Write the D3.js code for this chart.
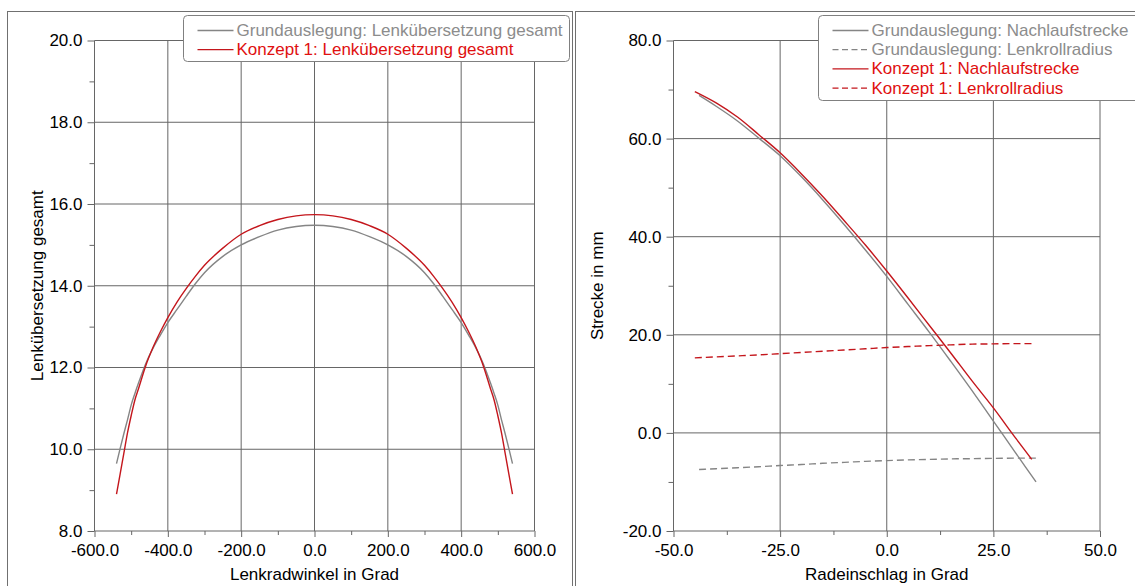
<!DOCTYPE html>
<html><head><meta charset="utf-8">
<script src="https://cdn.jsdelivr.net/npm/d3@7"></script>
<style>
body{margin:0;background:#fff}
svg{display:block;font-family:"Liberation Sans",Arial,sans-serif}
</style>
</head><body>
<svg id="chart" width="1135" height="586"></svg>
<script>
// ---------- DATA ----------
// Left panel: Lenkübersetzung gesamt vs Lenkradwinkel
const lenkradwinkel = [-540,-530,-520,-510,-500,-490,-480,-460,-440,-420,-400,-375,-350,-325,-300,-250,-200,-150,-100,-50,0,50,100,150,200,250,300,325,350,375,400,420,440,460,480,490,500,510,520,530,540];
const grundUebersetzung = [9.65,10.02,10.38,10.72,11.08,11.36,11.62,12.10,12.48,12.80,13.10,13.42,13.74,14.05,14.32,14.72,15.00,15.20,15.36,15.45,15.48,15.45,15.36,15.20,15.00,14.72,14.32,14.05,13.74,13.42,13.10,12.80,12.48,12.10,11.62,11.36,11.08,10.72,10.38,10.02,9.65];
const konzeptUebersetzung = [8.90,9.40,9.90,10.40,10.82,11.20,11.48,12.05,12.50,12.88,13.22,13.60,13.93,14.23,14.50,14.92,15.26,15.47,15.62,15.71,15.74,15.71,15.62,15.47,15.26,14.92,14.50,14.23,13.93,13.60,13.22,12.88,12.50,12.05,11.48,11.20,10.82,10.40,9.90,9.40,8.90];

// Right panel: Strecke vs Radeinschlag
const radeinschlagGrund = [-44,-40,-35,-30,-25,-20,-15,-10,-5,0,5,10,15,20,25,30,35];
const grundNachlauf = [68.8,66.6,63.6,60.1,56.5,52.2,47.5,42.5,37.3,31.9,26.2,20.5,14.6,8.6,2.4,-3.8,-10.0];
const grundLenkroll = [-7.45,-7.3,-7.1,-6.9,-6.65,-6.45,-6.2,-6.0,-5.8,-5.65,-5.5,-5.4,-5.3,-5.25,-5.2,-5.15,-5.15];
const radeinschlagKonzept = [-45,-40,-35,-30,-25,-20,-15,-10,-5,0,5,10,15,20,25,30,34];
const konzeptNachlauf = [69.6,67.3,64.4,60.8,57.1,52.8,48.2,43.3,38.3,33.0,27.5,21.9,16.3,10.6,5.1,-0.8,-5.4];
const konzeptLenkroll = [15.3,15.5,15.7,15.9,16.15,16.4,16.65,16.9,17.15,17.4,17.6,17.8,17.95,18.1,18.15,18.2,18.2];

// Ticks
const leftXTicks = [-600,-400,-200,0,200,400,600];
const leftXMinor = [-500,-300,-100,100,300,500];
const leftYTicks = [8,10,12,14,16,18,20];
const leftYMinor = [9,11,13,15,17,19];
const rightXTicks = [-50,-25,0,25,50];
const rightXMinor = [-37.5,-12.5,12.5,37.5];
const rightYTicks = [-20,0,20,40,60,80];
const rightYMinor = [-10,10,30,50,70];

// Labels
const leftXTitle = "Lenkradwinkel in Grad";
const leftYTitle = "Lenkübersetzung gesamt";
const rightXTitle = "Radeinschlag in Grad";
const rightYTitle = "Strecke in mm";
const leftLegend = ["Grundauslegung: Lenkübersetzung gesamt","Konzept 1: Lenkübersetzung gesamt"];
const rightLegend = ["Grundauslegung: Nachlaufstrecke","Grundauslegung: Lenkrollradius","Konzept 1: Nachlaufstrecke","Konzept 1: Lenkrollradius"];

// ---------- STYLE ----------
const GREY = "#858585", RED = "#c4161c", GREY_TXT = "#8c8c8c", RED_TXT = "#e01010";
const GRID = "#666", FRAME = "#707070", FS = 17;
const fmt = d => d.toFixed(1);

const svg = d3.select("#chart");

// frames
svg.append("rect").attr("x",7.5).attr("y",11.5).attr("width",565).attr("height",600)
  .attr("fill","none").attr("stroke",FRAME);
svg.append("rect").attr("x",575.5).attr("y",11.5).attr("width",600).attr("height",600)
  .attr("fill","none").attr("stroke",FRAME);

function panel(cfg){
  const g = svg.append("g");
  const x = d3.scaleLinear().domain(cfg.xDomain).range(cfg.xRange);
  const y = d3.scaleLinear().domain(cfg.yDomain).range([531,40.5]);
  // grid
  g.append("g").selectAll("line").data(cfg.xTicks).join("line")
    .attr("x1",d=>x(d)).attr("x2",d=>x(d)).attr("y1",y.range()[0]).attr("y2",y.range()[1])
    .attr("stroke",GRID).attr("stroke-width",1);
  g.append("g").selectAll("line").data(cfg.yTicks).join("line")
    .attr("y1",d=>y(d)).attr("y2",d=>y(d)).attr("x1",x.range()[0]).attr("x2",x.range()[1])
    .attr("stroke",GRID).attr("stroke-width",1);
  // axes
  const ax = g.append("g").attr("transform",`translate(0,${y.range()[0]})`)
    .call(d3.axisBottom(x).tickValues(cfg.xTicks).tickFormat(fmt).tickSize(6).tickPadding(7).tickSizeOuter(0));
  const axm = g.append("g").attr("transform",`translate(0,${y.range()[0]})`)
    .call(d3.axisBottom(x).tickValues(cfg.xMinor).tickFormat("").tickSize(4).tickSizeOuter(0));
  const ay = g.append("g").attr("transform",`translate(${x.range()[0]},0)`)
    .call(d3.axisLeft(y).tickValues(cfg.yTicks).tickFormat(fmt).tickSize(7).tickPadding(5).tickSizeOuter(0));
  const aym = g.append("g").attr("transform",`translate(${x.range()[0]},0)`)
    .call(d3.axisLeft(y).tickValues(cfg.yMinor).tickFormat("").tickSize(5).tickSizeOuter(0));
  [ax,axm,ay,aym].forEach(a=>{
    a.select(".domain").remove();
    a.selectAll("line").attr("stroke",GRID);
    a.selectAll("text").attr("font-size",FS).attr("fill","#000")
      .attr("font-family",'"Liberation Sans",Arial,sans-serif');
  });
  // titles
  g.append("text").attr("x",(x.range()[0]+x.range()[1])/2).attr("y",574)
    .attr("text-anchor","middle").attr("dominant-baseline","central")
    .attr("font-size",FS).text(cfg.xTitle);
  g.append("text").attr("transform",`translate(${cfg.yTitleX},${(y.range()[0]+y.range()[1])/2}) rotate(-90)`)
    .attr("text-anchor","middle").attr("dominant-baseline","central")
    .attr("font-size",FS).text(cfg.yTitle);
  // series
  const line = d3.line().x(d=>x(d[0])).y(d=>y(d[1])).curve(d3.curveMonotoneX);
  cfg.series.forEach(s=>{
    g.append("path").datum(d3.zip(s.x,s.y)).attr("d",line)
      .attr("fill","none").attr("stroke",s.color).attr("stroke-width",1.4)
      .attr("stroke-dasharray",s.dash||null);
  });
  // legend
  const L = cfg.legend;
  g.append("rect").attr("x",L.x).attr("y",L.y).attr("width",L.w).attr("height",L.h).attr("rx",4)
    .attr("fill","#fff").attr("stroke","#808080");
  cfg.series.forEach((s,i)=>{
    const yy = L.y + 15 + i*19.2;
    g.append("line").attr("x1",L.x+14).attr("x2",L.x+50).attr("y1",yy).attr("y2",yy)
      .attr("stroke",s.color).attr("stroke-width",1.3).attr("stroke-dasharray",s.dash?"6,3.5":null);
    g.append("text").attr("x",L.x+53).attr("y",yy).attr("dominant-baseline","central")
      .attr("font-size",FS).attr("fill",s.txt).text(s.label);
  });
}

panel({
  xDomain:[-600,600], xRange:[94.5,534.5], yDomain:[8,20],
  xTicks:leftXTicks, xMinor:leftXMinor, yTicks:leftYTicks, yMinor:leftYMinor,
  xTitle:leftXTitle, yTitle:leftYTitle, yTitleX:37,
  series:[
    {x:lenkradwinkel,y:grundUebersetzung,color:GREY,txt:GREY_TXT,label:leftLegend[0]},
    {x:lenkradwinkel,y:konzeptUebersetzung,color:RED,txt:RED_TXT,label:leftLegend[1]}
  ],
  legend:{x:183.5,y:15.5,w:386,h:46}
});

panel({
  xDomain:[-50,50], xRange:[673.5,1100], yDomain:[-20,80],
  xTicks:rightXTicks, xMinor:rightXMinor, yTicks:rightYTicks, yMinor:rightYMinor,
  xTitle:rightXTitle, yTitle:rightYTitle, yTitleX:597,
  series:[
    {x:radeinschlagGrund,y:grundNachlauf,color:GREY,txt:GREY_TXT,label:rightLegend[0]},
    {x:radeinschlagGrund,y:grundLenkroll,color:GREY,txt:GREY_TXT,label:rightLegend[1],dash:"7,4"},
    {x:radeinschlagKonzept,y:konzeptNachlauf,color:RED,txt:RED_TXT,label:rightLegend[2]},
    {x:radeinschlagKonzept,y:konzeptLenkroll,color:RED,txt:RED_TXT,label:rightLegend[3],dash:"7,4"}
  ],
  legend:{x:818.5,y:15.5,w:340,h:85}
});
</script>
</body></html>
